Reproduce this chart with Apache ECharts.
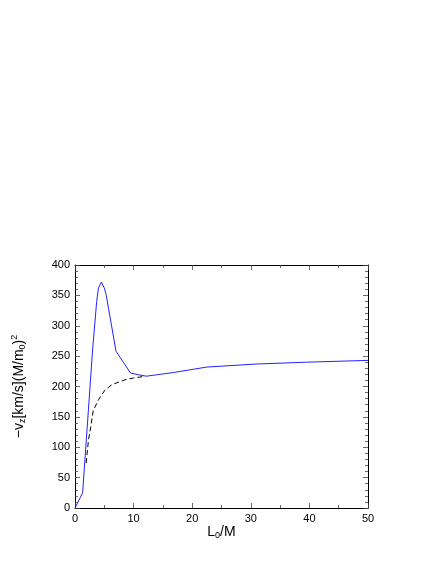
<!DOCTYPE html>
<html>
<head>
<meta charset="utf-8">
<script src="https://cdn.jsdelivr.net/npm/echarts@6/dist/echarts.min.js"></script>
<style>
  html, body { margin: 0; padding: 0; background: #fff; }
  #main { width: 443px; height: 573px; }
</style>
</head>
<body>
<div id="main"></div>
<script>
// values
var blueX = [0, 1.3, 3, 3.7, 4, 4.5, 5, 5.3, 7, 9.5, 11, 12.2, 16.8, 22.5, 31, 39.5, 50];
var blueY = [0, 25, 260, 340, 362, 372, 362, 352, 258, 222, 219, 217, 223, 232, 237, 240, 243];
var dashX = [1.9, 2.3, 2.7, 3.1, 4, 5.1, 6.3, 8.5, 10, 12];
var dashY = [74, 112, 134, 160, 178, 194, 203, 211, 214, 217];

function pairs(xs, ys) {
  return xs.map(function (x, i) { return [x, ys[i]]; });
}

var chart = echarts.init(document.getElementById('main'));

var font = 'Liberation Sans, Arial, sans-serif';

// axis with ticks pointing into the plot, used for all four sides of the box
function boxAxis(min, max, step, minorSplit, pos) {
  return {
    type: 'value', min: min, max: max, interval: step, position: pos,
    axisLine: { onZero: false, lineStyle: { color: '#000', width: 1 } },
    axisTick: { show: true, inside: true, length: 5, lineStyle: { color: '#444', width: 0.8 } },
    minorTick: { show: true, splitNumber: minorSplit, length: 3, lineStyle: { color: '#444', width: 0.8 } },
    axisLabel: { show: false },
    splitLine: { show: false }
  };
}

var xBottom = boxAxis(0, 50, 10, 2, 'bottom');
xBottom.axisLabel = { show: true, color: '#000', fontSize: 11, margin: 5, fontFamily: font };
xBottom.name = 'L{sub|0}/M';
xBottom.nameLocation = 'middle';
xBottom.nameGap = 15;
xBottom.nameTextStyle = {
  color: '#000', fontSize: 14, fontFamily: font,
  rich: { sub: { fontSize: 9, padding: [7, 0, 0, 0], fontFamily: font } }
};

var yLeft = boxAxis(0, 400, 50, 5, 'left');
yLeft.axisLabel = { show: true, color: '#000', fontSize: 11, margin: 5, fontFamily: font };
yLeft.name = '\u2212v{sub|z}[km/s](M/m{sub|0}){sup|2}';
yLeft.nameLocation = 'middle';
yLeft.nameGap = 46;
yLeft.nameTextStyle = {
  color: '#000', fontSize: 14, fontFamily: font,
  rich: {
    sub: { fontSize: 9, padding: [7, 0, 0, 0], fontFamily: font },
    sup: { fontSize: 9, padding: [0, 0, 10, 0], fontFamily: font }
  }
};

chart.setOption({
  animation: false,
  textStyle: { fontFamily: font },
  grid: { left: 75, right: 75, top: 265, bottom: 65 },
  xAxis: [xBottom, boxAxis(0, 50, 10, 2, 'top')],
  yAxis: [yLeft, boxAxis(0, 400, 50, 5, 'right')],
  series: [
    {
      type: 'line', data: pairs(dashX, dashY), showSymbol: false,
      lineStyle: { color: '#000', width: 1, type: [5, 3] }, z: 2
    },
    {
      type: 'line', data: pairs(blueX, blueY), showSymbol: false,
      lineStyle: { color: '#2222ff', width: 1 }, z: 3
    }
  ]
});
</script>
</body>
</html>
